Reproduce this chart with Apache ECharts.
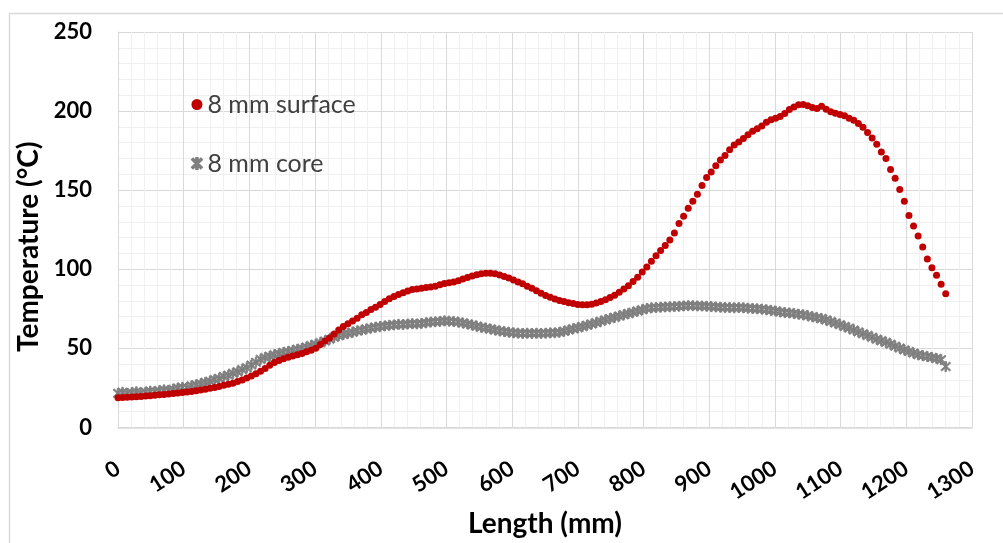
<!DOCTYPE html>
<html>
<head>
<meta charset="utf-8">
<script src="https://cdn.jsdelivr.net/npm/echarts@6/dist/echarts.min.js"></script>
<style>html,body{margin:0;padding:0;background:#fff;}#c{width:1003px;height:543px;}</style>
</head>
<body>
<div id="c"></div>
<script>
// Positions along the specimen (mm), one reading every 7 mm
const lengthStep = 7;
const surfaceName = '8 mm surface';
const coreName = '8 mm core';
const xTicks = [0,100,200,300,400,500,600,700,800,900,1000,1100,1200,1300];
const yTicks = [0,50,100,150,200,250];

const surface = [
  18.8,18.9,19.1,19.2,19.4,19.6,19.8,20.0,20.3,20.6,
  20.9,21.2,21.5,21.8,22.1,22.4,22.8,23.2,23.7,24.2,
  24.8,25.3,25.9,26.6,27.3,28.0,29.0,30.0,31.2,32.5,
  34.0,35.5,37.2,39.3,41.0,42.3,43.4,44.4,45.2,46.0,
  46.8,47.8,48.8,50.0,52.5,54.6,56.6,59.0,61.6,63.8,
  65.6,67.3,69.0,71.2,72.6,74.5,76.0,77.8,79.6,81.3,
  82.8,84.0,85.2,86.2,87.2,87.6,88.0,88.4,88.8,89.3,
  90.2,91.0,91.4,92.0,92.8,93.8,94.8,95.8,96.6,97.2,
  97.5,97.5,97.1,96.3,95.4,94.4,93.2,92.0,90.8,89.2,
  88.0,86.4,84.8,83.4,82.3,81.2,80.3,79.6,78.9,78.3,
  77.8,77.6,77.6,77.9,78.6,79.6,80.8,82.2,83.6,85.5,
  87.5,89.5,92.3,95.0,98.2,101.5,105.0,108.5,111.8,115.0,
  118.5,123.0,129.0,133.5,138.5,143.0,147.5,153.0,158.0,161.5,
  165.5,169.0,172.0,175.5,178.5,180.5,182.6,185.0,187.2,188.8,
  190.6,193.0,194.6,195.5,196.5,198.5,201.0,202.6,204.0,204.2,
  203.4,202.2,201.6,203.0,201.2,199.6,198.6,197.8,197.0,195.5,
  194.2,192.2,189.8,186.4,183.0,179.0,174.2,170.0,163.0,157.5,
  150.5,143.0,134.0,127.3,121.0,114.0,106.5,101.0,96.2,90.5,
  84.5
];

const core = [
  21.6,22.3,21.4,22.0,22.6,21.8,22.4,23.0,22.5,23.2,
  23.8,23.3,24.2,24.9,25.4,25.2,26.3,27.0,27.6,28.5,
  29.2,30.3,31.0,32.2,33.0,34.3,35.2,36.6,37.8,39.4,
  41.2,43.0,44.2,45.0,46.0,46.6,47.4,48.0,48.6,49.4,
  50.0,50.8,51.8,52.6,53.6,54.6,55.8,57.0,58.0,58.8,
  59.4,60.2,61.0,61.6,62.2,62.8,63.4,63.8,64.2,64.6,
  64.8,65.2,65.0,65.4,65.6,65.4,65.8,66.2,66.6,66.8,
  67.0,67.4,67.2,67.0,66.6,66.0,65.4,64.8,64.0,63.4,
  62.8,62.2,61.6,61.0,60.6,60.2,59.8,59.6,59.4,59.6,
  59.4,59.6,59.4,59.6,59.8,59.8,60.2,60.8,61.6,62.4,
  63.0,63.8,64.6,65.4,66.2,67.2,68.0,68.8,69.6,70.4,
  71.2,72.0,72.8,73.6,74.4,75.2,75.6,75.8,76.0,76.2,
  76.3,76.4,76.6,76.8,77.0,77.0,76.8,76.8,76.6,76.4,
  76.2,76.0,75.8,75.8,75.6,75.8,75.6,75.4,75.2,75.0,
  74.8,74.4,74.0,73.6,73.0,72.6,72.4,72.0,71.6,71.2,
  70.6,70.0,69.4,68.8,68.0,67.0,66.0,65.0,63.8,62.8,
  61.6,60.4,59.2,58.2,57.0,55.8,54.8,53.8,52.6,51.4,
  50.2,49.0,48.0,47.0,46.0,45.4,44.8,44.2,43.6,42.8,
  38.5
];

const lengths = surface.map((_, i) => i * lengthStep);
const surfaceData = surface.map((v, i) => [lengths[i], v]);
const coreData = core.map((v, i) => [lengths[i], v]);

const asterisk = 'path://M4.3,0 L5.7,0 L5.7,10 L4.3,10 Z M0.5,1.5 L1.5,0.5 L9.5,8.5 L8.5,9.5 Z M8.5,0.5 L9.5,1.5 L1.5,9.5 L0.5,8.5 Z';
const FONT = 'Lato, "Open Sans", sans-serif';

const chart = echarts.init(document.getElementById('c'), null, {renderer: 'canvas'});
chart.setOption({
  backgroundColor: '#fff',
  animation: false,
  graphic: [{
    type: 'rect', left: 7, top: 11, z: -10,
    shape: {x: 0, y: 0, width: 1010, height: 560},
    style: {fill: 'none', stroke: '#d9d9d9', lineWidth: 1.5}
  }],
  grid: {left: 118, top: 32, right: 31, bottom: 109, containLabel: false},
  legend: {
    orient: 'vertical', left: 186, top: 87, itemGap: 34,
    itemWidth: 11, itemHeight: 11,
    textStyle: {fontSize: 25, color: '#404040', fontFamily: FONT},
    data: [
      {name: surfaceName, icon: 'circle', itemStyle: {color: '#C00000'}},
      {name: coreName, icon: asterisk, itemStyle: {color: '#7f7f7f'}}
    ]
  },
  xAxis: {
    type: 'value', min: xTicks[0], max: xTicks[xTicks.length - 1], interval: 100,
    name: 'Length (mm)', nameLocation: 'middle', nameGap: 82,
    nameTextStyle: {fontSize: 28, fontWeight: 'bold', color: '#000', fontFamily: FONT},
    axisLine: {show: true, lineStyle: {color: '#d9d9d9', width: 1.5}},
    axisTick: {show: false},
    axisLabel: {rotate: 33, margin: 39, fontSize: 22, fontWeight: 'bold', color: '#000', fontFamily: FONT,
      formatter: v => String(v)},
    splitLine: {show: true, lineStyle: {color: '#d9d9d9', width: 1}},
    minorTick: {show: false, splitNumber: 5},
    minorSplitLine: {show: true, lineStyle: {color: '#f0f0f0', width: 1}}
  },
  yAxis: {
    type: 'value', min: yTicks[0], max: yTicks[yTicks.length - 1], interval: 50,
    name: 'Temperature (°C)', nameLocation: 'middle', nameGap: 74,
    nameTextStyle: {fontSize: 28, fontWeight: 'bold', color: '#000', fontFamily: FONT, padding: [0, 34, 0, 0]},
    axisLine: {show: true, lineStyle: {color: '#d9d9d9', width: 1}},
    axisTick: {show: false},
    axisLabel: {margin: 26, fontSize: 22, fontWeight: 'bold', color: '#000', fontFamily: FONT},
    splitLine: {show: true, lineStyle: {color: '#d9d9d9', width: 1}},
    minorTick: {show: false, splitNumber: 5},
    minorSplitLine: {show: true, lineStyle: {color: '#f0f0f0', width: 1}}
  },
  series: [
    {
      name: coreName, type: 'scatter', data: coreData,
      symbol: asterisk, symbolSize: 10,
      itemStyle: {color: '#7f7f7f', borderColor: '#7f7f7f', borderWidth: 0.8, opacity: 1},
      z: 2
    },
    {
      name: surfaceName, type: 'scatter', data: surfaceData,
      symbol: 'circle', symbolSize: 7,
      itemStyle: {color: '#C00000', opacity: 1},
      z: 3
    }
  ]
});
</script>
</body>
</html>
